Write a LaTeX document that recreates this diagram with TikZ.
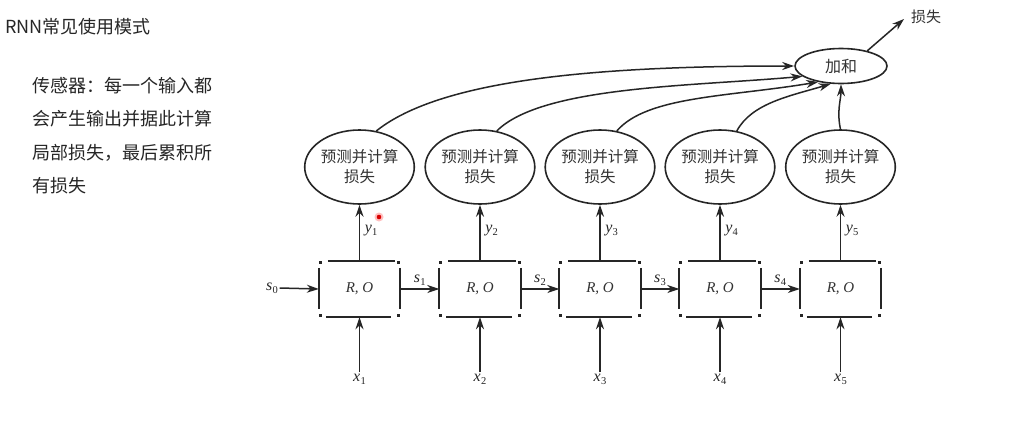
\documentclass[tikz,border=0pt]{standalone}
\usepackage{fontspec}
\usetikzlibrary{shapes.geometric,arrows.meta}
\newfontfamily\cjk{Noto Sans CJK SC}
\newfontfamily\tms{Liberation Serif}
\definecolor{ink}{HTML}{262626}
\definecolor{txt}{HTML}{333333}
\newcommand\vlab[2]{{\tms\itshape #1}\kern0.3pt\raisebox{-3pt}{\tms\fontsize{10.5}{10.5}\selectfont #2}}
\begin{document}
\begin{tikzpicture}[x=1pt,y=-1pt,
  arr/.style={draw=ink,line width=1.5pt,-{Stealth[length=12pt,width=8pt]}},
  cellbox/.style={rectangle,minimum width=81pt,minimum height=56pt,inner sep=0pt,text=txt,font=\tms\itshape\fontsize{15}{17}\selectfont},
  predell/.style={ellipse,draw=ink,line width=1.6pt,minimum width=109pt,minimum height=74pt,inner sep=0pt,align=center,text=txt,font=\cjk\fontsize{15.5}{20}\selectfont},
  sumell/.style={ellipse,draw=ink,line width=1.6pt,minimum width=92pt,minimum height=35pt,inner sep=0pt,text=txt,font=\cjk\fontsize{16}{18}\selectfont},
  lab/.style={inner sep=1.5pt,font=\fontsize{16}{18}\selectfont,text=ink},
  side/.style={draw=ink,line width=2.3pt},
  crn/.style={fill=ink}
]
\useasboundingbox (0,0) rectangle (1024,426);
\fill[white] (0,0) rectangle (1024,426);

% left text
\node[anchor=west,inner sep=0pt,font=\cjk\fontsize{18}{20}\selectfont,text=black!85] (title) at (5,27) {RNN常见使用模式};
\node[anchor=north west,inner sep=0pt,align=left,font=\cjk\fontsize{18}{33.5}\selectfont,text=black!85] (body) at (32,77)
  {传感器：每一个输入都\\会产生输出并据此计算\\局部损失，最后累积所\\有损失};

% cells
\foreach \i/\cx in {1/359.5,2/480,3/600,4/720,5/840.5}{
  \node[cellbox] (box\i) at (\cx,289) {R, O};
  \draw[side] ([xshift=9pt]box\i.north west) -- ([xshift=-5pt]box\i.north east);
  \draw[side] ([xshift=7pt]box\i.south west) -- ([xshift=-9pt]box\i.south east);
  \draw[side] ([yshift=-7pt]box\i.north west) -- ([yshift=8pt]box\i.south west);
  \draw[side] ([yshift=-7pt]box\i.north east) -- ([yshift=8pt]box\i.south east);
  \fill[crn] (box\i.north west) rectangle +(3,3);
  \fill[crn] (box\i.north east) rectangle +(-3,3);
  \fill[crn] (box\i.south west) rectangle +(3,-3);
  \fill[crn] (box\i.south east) rectangle +(-3,-3);
  \node[predell] (pred\i) at (\cx,167) {预测并计算\\损失};
  \node[lab] (x\i) at (\cx,379) {\vlab{x}{\i}};
  \draw[arr] (x\i.north) -- (box\i.south);
  \draw[arr] (box\i.north) -- (pred\i.south) node[midway,right,lab,xshift=3pt,yshift=2pt] {\vlab{y}{\i}};
}

% states
\node[lab] (s0) at (272,288) {\vlab{s}{0}};
\draw[arr] (s0.east) -- (box1.west);
\foreach \i/\j in {1/2,2/3,3/4,4/5}{
  \draw[arr] (box\i.east) -- (box\j.west) node[midway,above,lab,yshift=1pt] {\vlab{s}{\i}};
}

% sum
\node[sumell] (sum) at (841,66) {加和};
\node[anchor=west,inner sep=0pt,text=txt,font=\cjk\fontsize{15}{17}\selectfont] (loss) at (911,17) {损失};
\draw[arr] (sum.30) -- ([xshift=-7pt,yshift=-2pt]loss.west);

\draw[arr] (pred1.65) .. controls +(65,-52) and +(-195,0) .. (sum.west);
\draw[arr] (pred2.65) .. controls +(45,-45) and +(-110,10) .. (sum.195);
\draw[arr] (pred3.65) .. controls +(30,-35) and +(-90,15) .. (sum.215);
\draw[arr] (pred4.65) .. controls +(15,-28) and +(-40,12) .. (sum.240);
\draw[arr] (pred5.north) .. controls +(-4,-18) and +(0,15) .. (sum.south);

% pointer dot
\fill[red!25] (379,217) circle (4.5);
\fill[red!85!black] (379,217) circle (2.3);
\end{tikzpicture}
\end{document}
